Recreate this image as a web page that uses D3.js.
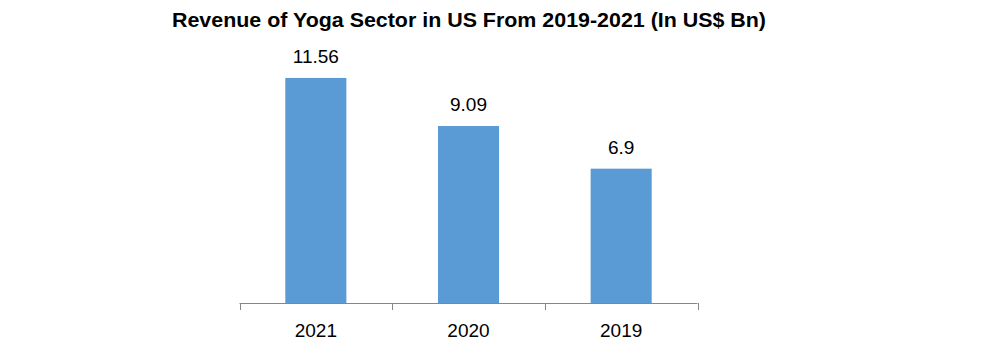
<!DOCTYPE html>
<html>
<head>
<meta charset="utf-8">
<script src="https://d3js.org/d3.v7.min.js"></script>
<style>
  body { margin: 0; background: #fff; }
  text { font-family: "Liberation Sans", Arial, sans-serif; fill: #000; }
</style>
</head>
<body>
<div id="chart"></div>
<script>
const years    = ["2021", "2020", "2019"];
const revenue  = [11.56, 9.09, 6.9];
const valueLbl = ["11.56", "9.09", "6.9"];

const width  = 1008;
const height = 347;

const svg = d3.select("#chart")
    .append("svg")
    .attr("width", width)
    .attr("height", height);

// title
svg.append("text")
    .attr("x", 172)
    .attr("y", 27)
    .attr("textLength", 594)
    .attr("lengthAdjust", "spacingAndGlyphs")
    .style("font-size", "21px")
    .style("font-weight", "bold")
    .text("Revenue of Yoga Sector in US From 2019-2021 (In US$ Bn)");

let x = d3.scaleBand()
    .domain(years)
    .range([239.5, 697.5])
    .paddingInner(0.6)
    .paddingOuter(0.3);

let y = d3.scaleLinear()
    .domain([0, 14])
    .range([303, 303 - 14 * 19.47]);

// bars
svg.selectAll("rect.bar")
    .data(years)
    .enter()
    .append("rect")
    .attr("class", "bar")
    .attr("x", d => x(d))
    .attr("y", (d, i) => y(revenue[i]))
    .attr("width", x.bandwidth())
    .attr("height", (d, i) => y(0) - y(revenue[i]))
    .style("fill", "#5b9bd5");

// value labels
svg.selectAll("text.val")
    .data(years)
    .enter()
    .append("text")
    .attr("class", "val")
    .attr("text-anchor", "middle")
    .attr("x", d => x(d) + x.bandwidth() / 2)
    .attr("y", (d, i) => y(revenue[i]) - 15)
    .style("font-size", "19px")
    .text((d, i) => valueLbl[i]);

// category axis: baseline with ticks at band edges
let axis = svg.append("g");
axis.append("line")
    .attr("x1", 239.5).attr("x2", 697.5)
    .attr("y1", 303.5).attr("y2", 303.5)
    .style("stroke", "#868686");

let edges = years.map(d => x(d) - x.step() * x.paddingInner() / 2);
edges.push(697.5);
axis.selectAll("line.tick")
    .data(edges)
    .enter()
    .append("line")
    .attr("class", "tick")
    .attr("x1", d => Math.round(d) + 0.5)
    .attr("x2", d => Math.round(d) + 0.5)
    .attr("y1", 303)
    .attr("y2", 310)
    .style("stroke", "#868686");

axis.selectAll("text")
    .data(years)
    .enter()
    .append("text")
    .attr("text-anchor", "middle")
    .attr("x", d => x(d) + x.bandwidth() / 2)
    .attr("y", 337)
    .style("font-size", "19px")
    .text(d => d);
</script>
</body>
</html>
